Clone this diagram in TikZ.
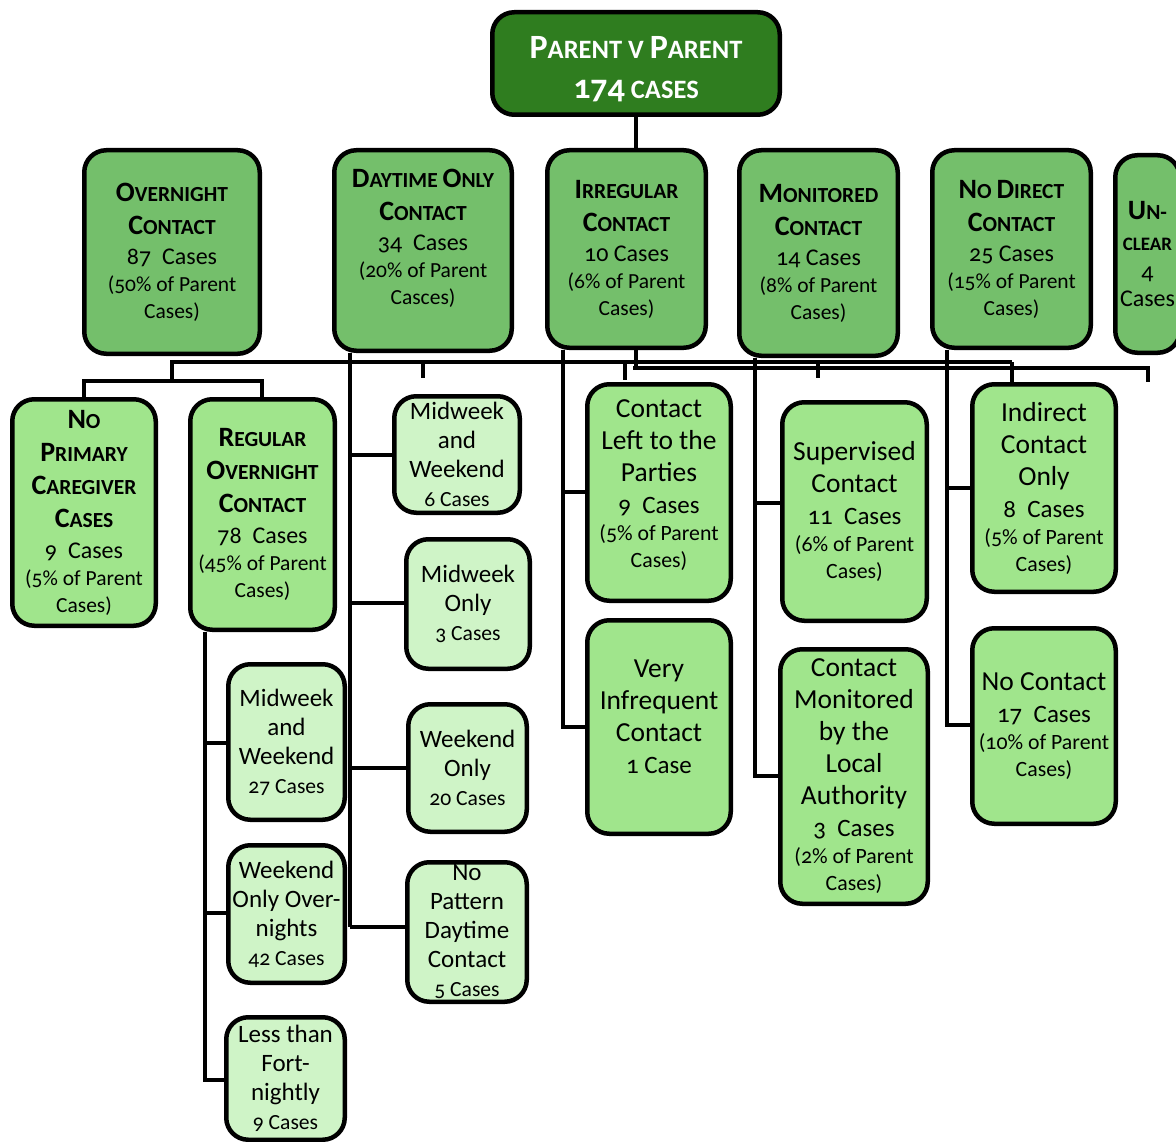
\documentclass[tikz,border=0pt]{standalone}
\usepackage{fontspec}
\setmainfont{Carlito}[Numbers=OldStyle]
\definecolor{rootc}{RGB}{47,125,31}
\definecolor{lvA}{RGB}{116,191,107}
\definecolor{lvB}{RGB}{160,229,140}
\definecolor{lvC}{RGB}{207,244,199}
\newcommand\hd[2]{{\bfseries{\hdbig #1}{\smcsize #2}}}
\newcommand\pc[1]{{\pcsize #1}}
\newcommand\cs[1]{{\cssize #1}}
\newcommand\BR{\\[5pt]}
\newcommand\bx[7]{\node[#1, minimum width={(#5-#3-4.5)*1pt}, minimum height={(#6-#4-4.5)*1pt}] (#2) at ({(#3+#5)/2},{(#4+#6)/2}) {#7};}
\tikzset{
  box/.style={draw=black, line width=4.5pt, rounded corners=22pt, align=center, inner sep=0pt, anchor=center, text=black},
  rootbox/.style={box, fill=rootc, text=white, font=\fontsize{34}{40}\selectfont\def\hdbig{\fontsize{34}{40}\selectfont}\def\smcsize{\fontsize{26.5}{40}\selectfont}},
  lone/.style={box, fill=lvA, font=\fontsize{24}{27}\selectfont\def\hdbig{\fontsize{28}{27}\selectfont}\def\smcsize{\fontsize{21.5}{27}\selectfont}\def\pcsize{\fontsize{21.5}{27}\selectfont}},
  ltwoh/.style={box, fill=lvB, font=\fontsize{24}{27}\selectfont\def\hdbig{\fontsize{28}{27}\selectfont}\def\smcsize{\fontsize{21.5}{27}\selectfont}\def\pcsize{\fontsize{21.5}{27}\selectfont}},
  ltwo/.style={box, fill=lvB, font=\fontsize{27.5}{27}\selectfont\def\cssize{\fontsize{25}{27}\selectfont}\def\pcsize{\fontsize{21.8}{27}\selectfont}},
  lthree/.style={box, fill=lvC, font=\fontsize{25}{29}\selectfont\def\pcsize{\fontsize{21.6}{29}\selectfont}},
  conn/.style={draw=black, line width=4.5pt},
}
\begin{document}
\begin{tikzpicture}[x=1pt,y=-1pt]
\useasboundingbox (0,0) rectangle (1176,1142);
\clip (0,0) rectangle (1176,1142);
% connector junctions
\coordinate (busL) at (172,362);
\coordinate (busR) at (1010,362);
\coordinate (busB) at (633,368);
\coordinate (busE) at (1148,368);
\coordinate (ovj) at (172,381);
\coordinate (dayv) at (350,353);
\coordinate (regv) at (205,632);
\coordinate (irrv) at (563,350);
\coordinate (monv) at (755,358);
\coordinate (ndv) at (947,350);
\coordinate (t1) at (423,378);
\coordinate (t2) at (625,380);
\coordinate (t3) at (818,378);
\coordinate (t4) at (1012,382);
\coordinate (t5) at (1148,382);
\coordinate (rootj) at (636,368);

\bx{rootbox}{root}{490}{10}{782}{117}{\\[-6pt]\hd{P}{ARENT V }\hd{P}{ARENT}\\\hd{174}{ CASES}}
\draw[conn] (root.south) -- (rootj);
\draw[conn, line cap=rect] (busL) -- (busR);
\draw[conn] (busB) -- (busE) -- (t5);
\draw[conn] (t1 |- busL) -- (t1);
\draw[conn] (t2 |- busL) -- (t2);
\draw[conn] (t3 |- busL) -- (t3);
\draw[conn] (t4 |- busL) -- (t4);
\draw[conn] (busL) -- (ovj);
\draw[conn] (84,381) -- (263,381);
\draw[conn] (84,379) -- (84,400);
\draw[conn] (262,379) -- (262,400);
\draw[conn] (dayv) -- (350,927);
\draw[conn] (350,455) -- (395,455);
\draw[conn] (350,603) -- (406,603);
\draw[conn] (350,768) -- (408,768);
\draw[conn] (350,927) -- (408,927);
\draw[conn] (regv) -- (205,1080);
\draw[conn] (203,743) -- (228,743);
\draw[conn] (203,913) -- (228,913);
\draw[conn] (203,1080) -- (228,1080);
\draw[conn] (irrv) -- (563,727);
\draw[conn] (561,492) -- (588,492);
\draw[conn] (561,727) -- (588,727);
\draw[conn] (monv) -- (755,776);
\draw[conn] (753,503) -- (782,503);
\draw[conn] (753,776) -- (780,776);
\draw[conn] (ndv) -- (947,725);
\draw[conn] (945,488) -- (972,488);
\draw[conn] (945,725) -- (972,725);

% level 1
\bx{lone}{over}{82}{148}{262}{356}{\hd{O}{VERNIGHT}\\[6pt]\hd{C}{ONTACT}\\[3pt]87~ Cases\\\pc{(50\% of Parent}\\\pc{Cases)}}
\bx{lone}{day}{332}{148}{514}{353}{\hd{D}{AYTIME }\hd{O}{NLY}\\[6pt]\hd{C}{ONTACT}\\[3pt]34~ Cases\\\pc{(20\% of Parent}\\\pc{Casces)}\\[0pt]}
\bx{lone}{irr}{545}{148}{708}{350}{\hd{I}{RREGULAR}\\[6pt]\hd{C}{ONTACT}\\[3pt]10 Cases\\\pc{(6\% of Parent}\\\pc{Cases)}}
\bx{lone}{mon}{737}{148}{900}{358}{\hd{M}{ONITORED}\\[6pt]\hd{C}{ONTACT}\\[3pt]14 Cases\\\pc{(8\% of Parent}\\\pc{Cases)}}
\bx{lone}{nod}{930}{148}{1093}{350}{\hd{N}{O }\hd{D}{IRECT}\\[6pt]\hd{C}{ONTACT}\\[3pt]25 Cases\\\pc{(15\% of Parent}\\\pc{Cases)}}
\bx{lone}{unc}{1113}{153}{1182}{355}{\hd{U}{N-}\\[4pt]{\bfseries\fontsize{19}{27}\selectfont CLEAR}\\[2pt]4\\Cases}

% level 2
\bx{ltwoh}{nopc}{10}{397}{158}{628}{\hd{N}{O}\\[6pt]\hd{P}{RIMARY}\\[6pt]\hd{C}{AREGIVER}\\[6pt]\hd{C}{ASES}\\[4pt]9~ Cases\\\pc{(5\% of Parent}\\\pc{Cases)}}
\bx{ltwoh}{reg}{188}{397}{337}{632}{\hd{R}{EGULAR}\\[6pt]\hd{O}{VERNIGHT}\\[6pt]\hd{C}{ONTACT}\\[4pt]78~ Cases\\\pc{(45\% of Parent}\\\pc{Cases)}}
\bx{ltwo}{clp}{585}{382}{733}{603}{Contact\BR Left to the\BR Parties\BR\cs{9~ Cases}\\\pc{(5\% of Parent}\\\pc{Cases)}\\[-9pt]}
\bx{ltwo}{vic}{585}{618}{733}{836}{Very\BR Infrequent\BR Contact\BR\cs{1 Case}\\[-7pt]}
\bx{ltwo}{sup}{780}{400}{929}{623}{Supervised\BR Contact\BR\cs{11~ Cases}\\\pc{(6\% of Parent}\\\pc{Cases)}}
\bx{ltwo}{cmla}{778}{647}{930}{906}{Contact\BR Monitored\BR by the\BR Local\BR Authority\BR\cs{3~ Cases}\\\pc{(2\% of Parent}\\\pc{Cases)}}
\bx{ltwo}{ind}{970}{382}{1118}{594}{Indirect\BR Contact\BR Only\BR\cs{8~ Cases}\\\pc{(5\% of Parent}\\\pc{Cases)}}
\bx{ltwo}{noc}{970}{626}{1118}{826}{No Contact\BR\cs{17~ Cases}\\\pc{(10\% of Parent}\\\pc{Cases)}}

% level 3
\bx{lthree}{dmw}{392}{394}{522}{515}{Midweek\\and\\Weekend\\\pc{6 Cases}}
\bx{lthree}{dmo}{404}{537}{532}{671}{Midweek\\Only\\\pc{3 Cases}}
\bx{lthree}{dwo}{406}{702}{529}{834}{Weekend\\Only\\\pc{20 Cases}}
\bx{lthree}{dnp}{405}{860}{529}{1004}{No\\Pattern\\Daytime\\Contact\\\pc{5 Cases}}
\bx{lthree}{omw}{226}{662}{347}{822}{Midweek\\and\\Weekend\\\pc{27 Cases}}
\bx{lthree}{owo}{226}{843}{347}{985}{Weekend\\Only Over-\\nights\\\pc{42 Cases}}
\bx{lthree}{olt}{224}{1015}{347}{1142}{Less than\\Fort-\\nightly\\\pc{9 Cases}}
\end{tikzpicture}
\end{document}
